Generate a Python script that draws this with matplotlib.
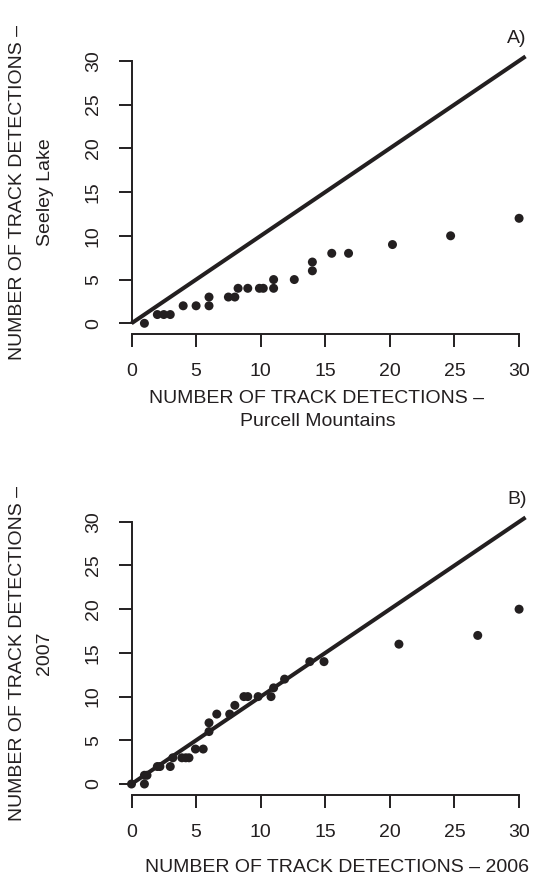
import numpy as np
import matplotlib
matplotlib.use("Agg")
import matplotlib.pyplot as plt

plt.rcParams['font.family'] = ['Liberation Sans', 'DejaVu Sans']

INK = "#231f20"

# panel A: Purcell Mountains (x) vs Seeley Lake (y)
a_x = [1, 2, 2.5, 3, 4, 5, 6, 6, 7.5, 8, 8.25, 9, 9.9, 10.2, 11, 11,
       12.6, 14, 14, 15.5, 16.8, 20.2, 24.7, 30]
a_y = [0, 1, 1, 1, 2, 2, 2, 3, 3, 3, 4, 4, 4, 4, 4, 5,
       5, 6, 7, 8, 8, 9, 10, 12]

# panel B: 2006 (x) vs 2007 (y)
b_x = [0, 1, 1, 1.2, 2, 2.2, 3, 3.2, 3.9, 4.2, 4.45, 4.95, 5.55, 6, 6,
       6.6, 7.6, 8, 8.7, 9, 9.8, 10.8, 11, 11.85, 13.8, 14.9, 20.7, 26.8, 30]
b_y = [0, 0, 1, 1, 2, 2, 2, 3, 3, 3, 3, 4, 4, 6, 7,
       8, 8, 9, 10, 10, 10, 10, 11, 12, 14, 14, 16, 17, 20]

ticks = [0, 5, 10, 15, 20, 25, 30]
line_end = 30.5

W, H = 540, 892
fig = plt.figure(figsize=(W/100, H/100), dpi=100)

def make_ax(top_px, bottom_px):
    left_px, right_px = 131.5, 532.0
    ax = fig.add_axes([left_px/W, 1 - bottom_px/H, (right_px-left_px)/W, (bottom_px-top_px)/H])
    ax.set_xlim(0, 31)
    ax.set_ylim(-1.2, 31.2)
    for s in ["top", "right"]:
        ax.spines[s].set_visible(False)
    for s in ["left", "bottom"]:
        ax.spines[s].set_bounds(0, 30)
        ax.spines[s].set_linewidth(1.4)
        ax.spines[s].set_color(INK)
    ax.set_xticks(ticks)
    ax.set_yticks(ticks)
    ax.tick_params(direction="out", length=9.3, width=1.4, color=INK,
                   labelsize=14, labelcolor=INK, pad=12)
    for lab in ax.get_yticklabels():
        lab.set_rotation(90)
        lab.set_va("center")
    ax.patch.set_visible(False)
    return ax

def panel(ax, xs, ys, tag):
    ax.plot([0, line_end], [0, line_end], color=INK, lw=2.9, clip_on=False,
            solid_capstyle="butt")
    ax.scatter(xs, ys, s=42, color=INK, edgecolors="none", zorder=3, clip_on=False)
    ax.text(30.6, 32.5, tag, ha="right", va="center", fontsize=14, color=INK,
            clip_on=False)

axA = make_ax(50.3, 333.8)
panel(axA, a_x, a_y, "A)")
axB = make_ax(511.3, 794.5)
panel(axB, b_x, b_y, "B)")

# axis titles
fig.text(317/W, 1 - 398/H, "NUMBER OF TRACK DETECTIONS \u2013", ha="center", va="center",
         fontsize=14, color=INK)
fig.text(318/W, 1 - 422/H, "Purcell Mountains", ha="center", va="center",
         fontsize=14, color=INK)
fig.text(18/W, 1 - 192/H, "NUMBER OF TRACK DETECTIONS \u2013", rotation=90,
         ha="center", va="center", fontsize=14, color=INK)
fig.text(45/W, 1 - 192/H, "Seeley Lake", rotation=90,
         ha="center", va="center", fontsize=14, color=INK)

fig.text(337/W, 1 - 868/H, "NUMBER OF TRACK DETECTIONS \u2013 2006", ha="center",
         va="center", fontsize=14, color=INK)
fig.text(18/W, 1 - 653/H, "NUMBER OF TRACK DETECTIONS \u2013", rotation=90,
         ha="center", va="center", fontsize=14, color=INK)
fig.text(45/W, 1 - 653/H, "2007", rotation=90,
         ha="center", va="center", fontsize=14, color=INK)

fig.savefig("out.png", dpi=100)
